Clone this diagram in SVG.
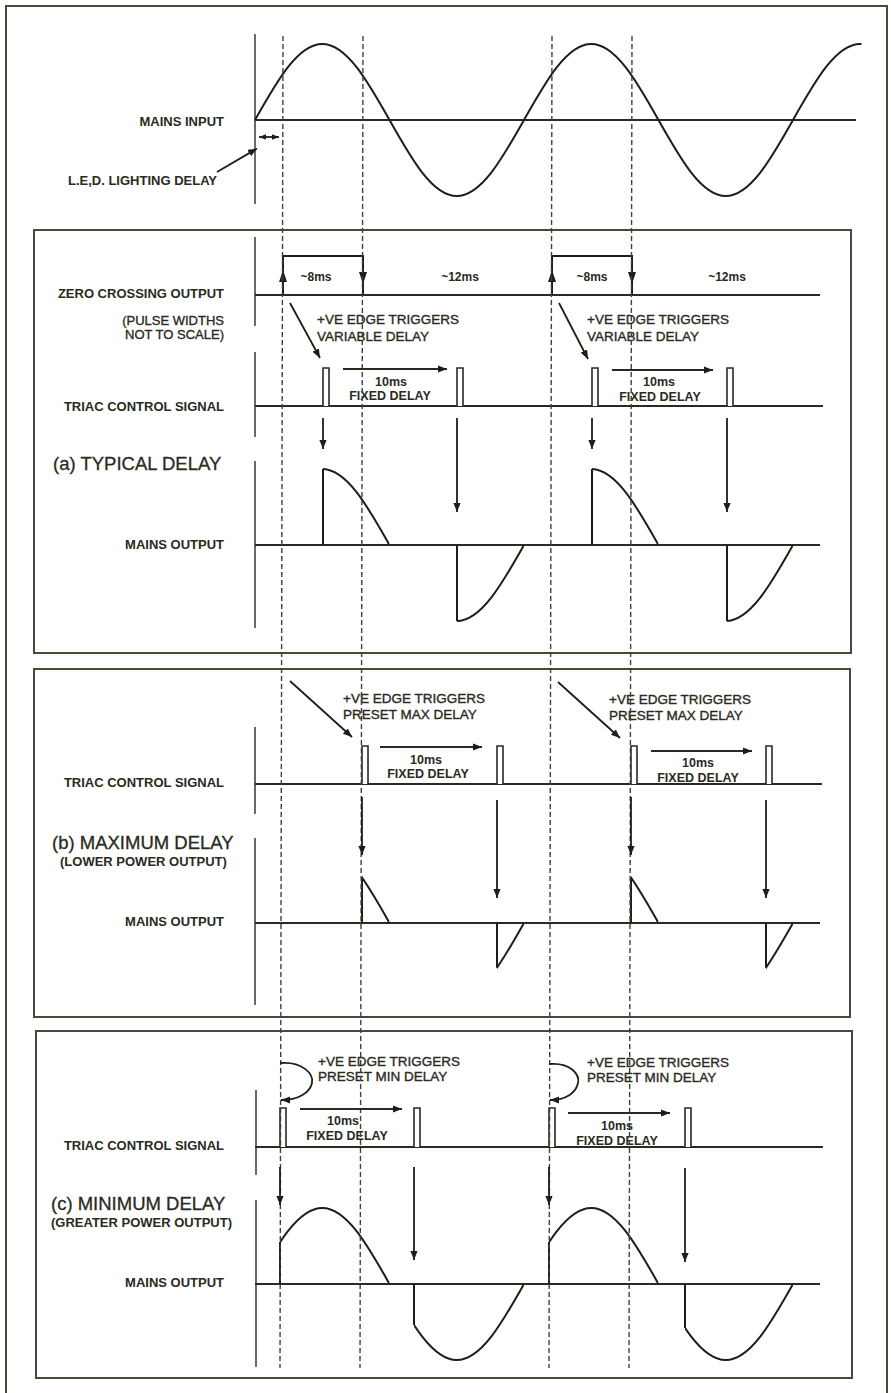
<svg xmlns="http://www.w3.org/2000/svg" width="891" height="1393" viewBox="0 0 891 1393">
<style>
text{font-family:"Liberation Sans",Arial,sans-serif;fill:#2a2a20}
.lb{font-size:13px;font-weight:bold;text-anchor:end}
.lbs{font-size:13px;font-weight:bold}
.nt{font-size:13px;text-anchor:end;stroke:#2a2a20;stroke-width:0.35}
.big{font-size:18.5px;stroke:#2a2a20;stroke-width:0.3}
.tr{font-size:13.5px;stroke:#2a2a20;stroke-width:0.35}
.ms{font-size:12px;font-weight:bold;text-anchor:middle}
.fx{font-size:12.5px;font-weight:bold;text-anchor:middle}
.box{fill:none;stroke:#4a4a3c;stroke-width:2}
.ax{fill:none;stroke:#3a3a30;stroke-width:1.5}
.base{fill:none;stroke:#2a2a22;stroke-width:1.8}
.wave{fill:none;stroke:#1e1e18;stroke-width:2}
.pulse{fill:#fff;stroke:#2a2a22;stroke-width:1.6}
.dash{fill:none;stroke:#404034;stroke-width:1.4;stroke-dasharray:5 3}
.arr{fill:none;stroke:#1e1e18;stroke-width:1.8;marker-end:url(#ah)}
.harr{fill:none;stroke:#2a2a22;stroke-width:1.8;marker-end:url(#ah)}
</style>
<defs>
<marker id="ah" viewBox="0 0 10 8" refX="10" refY="4" markerWidth="9" markerHeight="7.5" markerUnits="userSpaceOnUse" orient="auto"><path d="M0,0 L10,4 L0,8 z" fill="#1e1e18"/></marker>
<marker id="ahs" viewBox="0 0 10 8" refX="10" refY="4" markerWidth="7" markerHeight="6" markerUnits="userSpaceOnUse" orient="auto-start-reverse"><path d="M0,0 L10,4 L0,8 z" fill="#1e1e18"/></marker>
<path id="sine" class="wave" d="M0,0 c21.93,-38.93 42.91,-76 67.25,-76 s45.32,37.07 67.25,76 s42.91,76 67.25,76 s45.32,-37.07 67.25,-76 s42.91,-76 67.25,-76 s45.32,37.07 67.25,76 s42.91,76 67.25,76 s45.32,-37.07 67.25,-76 s42.91,-76 67.25,-76 s45.32,37.07 67.25,76 s42.91,76 67.25,76 s45.32,-37.07 67.25,-76"/>
<clipPath id="cTop"><rect x="250" y="30" width="611.5" height="180"/></clipPath>
<clipPath id="cA"><rect x="323" y="455" width="66.5" height="90.5"/><rect x="457" y="544.5" width="67" height="90"/><rect x="592" y="455" width="66.5" height="90.5"/><rect x="727" y="544.5" width="66" height="90"/></clipPath>
<clipPath id="cB"><rect x="362" y="840" width="27.5" height="83.5"/><rect x="497" y="922.5" width="27" height="60"/><rect x="631" y="840" width="27.5" height="83.5"/><rect x="766" y="922.5" width="27" height="60"/></clipPath>
<clipPath id="cC"><rect x="280" y="1200" width="109.5" height="84.5"/><rect x="414" y="1283.5" width="110" height="85"/><rect x="549" y="1200" width="109.5" height="84.5"/><rect x="685" y="1283.5" width="108" height="85"/></clipPath>
</defs>
<rect width="891" height="1393" fill="#fff"/>
<path class="box" d="M6,1393 V6 H887 V1393"/>

<g id="mains-input">
<line class="ax" x1="255" y1="34" x2="255" y2="204"/>
<line class="base" x1="255" y1="120" x2="856" y2="120"/>
<g clip-path="url(#cTop)"><use href="#sine" transform="translate(255,120)"/></g>
<text class="lb" x="224" y="126">MAINS INPUT</text>
<line x1="259" y1="137" x2="279" y2="137" stroke="#1e1e18" stroke-width="1.8" marker-start="url(#ahs)" marker-end="url(#ahs)"/>
<line class="arr" x1="217" y1="172" x2="257" y2="148.5"/>
<text class="lb" x="217" y="185">L.E,D. LIGHTING DELAY</text>
</g>

<g id="panel-a">
<rect class="box" x="34" y="230" width="817" height="423"/>
<path class="ax" d="M255,237 V326 M255,352 V437 M255,461 V628"/>
<text class="lb" x="224" y="298">ZERO CROSSING OUTPUT</text>
<text class="nt" x="224" y="325">(PULSE WIDTHS</text>
<text class="nt" x="224" y="339">NOT TO SCALE)</text>
<line class="base" x1="255" y1="295" x2="820" y2="295"/>
<path class="wave" d="M283,295 V256 H363 V295 M552,295 V256 H632 V295"/>
<polygon points="283,270 279,282 287,282" fill="#1e1e18"/>
<polygon points="363,284 359,272 367,272" fill="#1e1e18"/>
<polygon points="552,270 548,282 556,282" fill="#1e1e18"/>
<polygon points="632,284 628,272 636,272" fill="#1e1e18"/>
<text class="ms" x="316" y="281">~8ms</text>
<text class="ms" x="460" y="281">~12ms</text>
<text class="ms" x="592" y="281">~8ms</text>
<text class="ms" x="727" y="281">~12ms</text>
<text class="tr" x="317" y="324">+VE EDGE TRIGGERS</text>
<text class="tr" x="317" y="341">VARIABLE DELAY</text>
<text class="tr" x="587" y="324">+VE EDGE TRIGGERS</text>
<text class="tr" x="587" y="341">VARIABLE DELAY</text>
<text class="lb" x="224" y="411">TRIAC CONTROL SIGNAL</text>
<line class="base" x1="255" y1="406" x2="823" y2="406"/>
<path class="pulse" d="M323,406 V368 H329 V406 M457,406 V368 H463 V406 M592,406 V368 H598 V406 M727,406 V368 H733 V406"/>
<text class="fx" x="391" y="386">10ms</text>
<text class="fx" x="390" y="400">FIXED DELAY</text>
<text class="fx" x="659" y="386">10ms</text>
<text class="fx" x="660" y="401">FIXED DELAY</text>
<text class="big" x="53" y="470">(a) TYPICAL DELAY</text>
<text class="lb" x="224" y="549">MAINS OUTPUT</text>
<line class="base" x1="255" y1="545" x2="820" y2="545"/>
<g clip-path="url(#cA)"><use href="#sine" transform="translate(255,545)"/></g>
<path class="wave" d="M323,545 V469 M457,545 V621 M592,545 V469 M727,545 V621"/>
</g>

<g id="panel-b">
<rect class="box" x="34" y="669" width="816" height="348"/>
<path class="ax" d="M255,727 V814 M255,838 V1005"/>
<text class="tr" x="343" y="703">+VE EDGE TRIGGERS</text>
<text class="tr" x="343" y="719">PRESET MAX DELAY</text>
<text class="tr" x="609" y="704">+VE EDGE TRIGGERS</text>
<text class="tr" x="609" y="720">PRESET MAX DELAY</text>
<text class="lb" x="224" y="787">TRIAC CONTROL SIGNAL</text>
<line class="base" x1="255" y1="784" x2="822" y2="784"/>
<path class="pulse" d="M362,784 V746 H368 V784 M497,784 V746 H503 V784 M631,784 V746 H637 V784 M766,784 V746 H772 V784"/>
<text class="fx" x="426" y="764">10ms</text>
<text class="fx" x="428" y="778">FIXED DELAY</text>
<text class="fx" x="698" y="767">10ms</text>
<text class="fx" x="698" y="782">FIXED DELAY</text>
<text class="big" x="52" y="849">(b) MAXIMUM DELAY</text>
<text class="lbs" x="60" y="866">(LOWER POWER OUTPUT)</text>
<text class="lb" x="224" y="926">MAINS OUTPUT</text>
<line class="base" x1="255" y1="923" x2="820" y2="923"/>
<g clip-path="url(#cB)"><use href="#sine" transform="translate(255,923)"/></g>
<path class="wave" d="M362,923 V877.5 M497,923 V967.8 M631,923 V877.5 M766,923 V967.8"/>
</g>

<g id="panel-c">
<rect class="box" x="36" y="1031" width="816" height="347"/>
<path class="ax" d="M256,1090 V1175 M256,1200 V1367"/>
<text class="tr" x="318" y="1066">+VE EDGE TRIGGERS</text>
<text class="tr" x="318" y="1081">PRESET MIN DELAY</text>
<text class="tr" x="587" y="1067">+VE EDGE TRIGGERS</text>
<text class="tr" x="587" y="1082">PRESET MIN DELAY</text>
<text class="lb" x="224" y="1150">TRIAC CONTROL SIGNAL</text>
<line class="base" x1="255" y1="1147" x2="823" y2="1147"/>
<path class="pulse" d="M280,1147 V1108 H286 V1147 M414,1147 V1108 H420 V1147 M549,1147 V1108 H555 V1147 M685,1147 V1108 H691 V1147"/>
<text class="fx" x="343" y="1125">10ms</text>
<text class="fx" x="347" y="1140">FIXED DELAY</text>
<text class="fx" x="617" y="1130">10ms</text>
<text class="fx" x="617" y="1145">FIXED DELAY</text>
<text class="big" x="51" y="1210">(c) MINIMUM DELAY</text>
<text class="lbs" x="51" y="1227">(GREATER POWER OUTPUT)</text>
<text class="lb" x="224" y="1287">MAINS OUTPUT</text>
<line class="base" x1="255" y1="1284" x2="820" y2="1284"/>
<g clip-path="url(#cC)"><use href="#sine" transform="translate(255,1284)"/></g>
<path class="wave" d="M280,1284 V1242 M414,1284 V1325 M549,1284 V1242 M685,1284 V1328"/>
</g>

<g id="guides">
<line class="dash" x1="283" y1="36" x2="280" y2="1368"/>
<line class="dash" x1="363" y1="36" x2="360" y2="1368"/>
<line class="dash" x1="552" y1="36" x2="549" y2="1368"/>
<line class="dash" x1="632" y1="36" x2="629" y2="1368"/>
</g>

<g id="connectors">
<line class="arr" x1="290" y1="303" x2="320" y2="358"/>
<line class="arr" x1="559" y1="303" x2="588" y2="359"/>
<line class="harr" x1="343" y1="369" x2="447" y2="369"/>
<line class="harr" x1="612" y1="370" x2="713" y2="370"/>
<line class="arr" x1="323" y1="418" x2="323" y2="449"/>
<line class="arr" x1="457" y1="418" x2="457" y2="512"/>
<line class="arr" x1="592" y1="418" x2="592" y2="449"/>
<line class="arr" x1="727" y1="418" x2="727" y2="512"/>
<line class="arr" x1="290" y1="681" x2="352" y2="737"/>
<line class="arr" x1="558" y1="682" x2="620" y2="738"/>
<line class="harr" x1="380" y1="747" x2="482" y2="747"/>
<line class="harr" x1="651" y1="751" x2="752" y2="751"/>
<line class="arr" x1="362" y1="797" x2="362" y2="855"/>
<line class="arr" x1="497" y1="800" x2="497" y2="898"/>
<line class="arr" x1="631" y1="797" x2="631" y2="855"/>
<line class="arr" x1="766" y1="800" x2="766" y2="898"/>
<path class="arr" d="M280,1063 C302,1061 314,1074 312,1083 C310,1093 298,1100 281,1100"/>
<path class="arr" d="M549,1064 C571,1062 580,1075 578,1083 C576,1093 566,1100 550,1100"/>
<line class="harr" x1="300" y1="1109" x2="402" y2="1109"/>
<line class="harr" x1="568" y1="1113" x2="670" y2="1113"/>
<line class="arr" x1="280" y1="1167" x2="280" y2="1205"/>
<line class="arr" x1="414" y1="1167" x2="414" y2="1260"/>
<line class="arr" x1="549" y1="1167" x2="549" y2="1205"/>
<line class="arr" x1="685" y1="1168" x2="685" y2="1262"/>
</g>
</svg>
